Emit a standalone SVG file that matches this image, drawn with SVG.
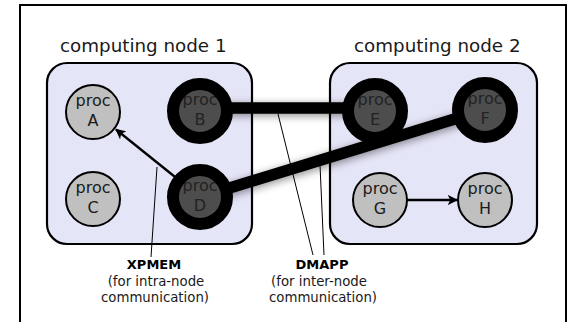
<svg xmlns="http://www.w3.org/2000/svg" width="574" height="322" viewBox="0 0 574 322">
<defs>
<style>
.frame{fill:#fff;stroke:#000;stroke-width:2}
.box{fill:#e5e5f8;stroke:#000;stroke-width:2.2}
.title{font-family:"DejaVu Sans",sans-serif;font-size:18.3px;fill:#1a1a1a}
.pl{fill:#c0c0c0;stroke:#000;stroke-width:2}
.pd{fill:#4d4d4d}
.ring{fill:none;stroke:#000;stroke-width:12}
.pt{font-family:"DejaVu Sans",sans-serif;font-size:16px;fill:#1a1a1a;text-anchor:middle}
.ptd{font-family:"DejaVu Sans",sans-serif;font-size:16px;fill:#222;text-anchor:middle}
.thick{stroke:#000;stroke-width:11.5;fill:none}
.arr{stroke:#000;stroke-width:2.3;fill:none}
.call{stroke:#000;stroke-width:1;fill:none}
.lb{font-family:"DejaVu Sans",sans-serif;font-size:13px;font-weight:bold;fill:#000;text-anchor:middle}
.ls{font-family:"DejaVu Sans",sans-serif;font-size:13.3px;fill:#1a1a1a;text-anchor:middle}
</style>
<filter id="glow" x="-20%" y="-50%" width="140%" height="200%">
<feGaussianBlur in="SourceAlpha" stdDeviation="4"/>
<feOffset dx="1" dy="2" result="b"/>
<feComponentTransfer><feFuncA type="linear" slope="0.45"/></feComponentTransfer>
<feMerge><feMergeNode/><feMergeNode in="SourceGraphic"/></feMerge>
</filter>
<marker id="ah" viewBox="0 0 10 10" refX="9" refY="5" markerWidth="4.5" markerHeight="4.5" orient="auto" markerUnits="strokeWidth">
<path d="M0,0 L10,5 L0,10 L2.5,5 Z" fill="#000"/>
</marker>
</defs>
<rect x="0" y="0" width="574" height="322" fill="#fff"/>
<rect class="frame" x="20" y="5" width="546" height="340"/>
<g id="node1">
<rect class="box" x="47" y="63" width="205" height="181" rx="20"/>
<text class="title" x="60" y="52">computing node 1</text>
</g>
<g id="node2">
<rect class="box" x="330" y="63" width="207" height="181" rx="20"/>
<text class="title" x="354" y="52">computing node 2</text>
</g>
<g id="connectors">
<g filter="url(#glow)">
<line class="thick" x1="200" y1="108" x2="375" y2="108"/>
<line class="thick" x1="200" y1="197" x2="484" y2="110"/>
</g>
<line class="arr" x1="190" y1="189" x2="116" y2="129.5" marker-end="url(#ah)"/>
<line class="arr" x1="407" y1="200" x2="457" y2="200" marker-end="url(#ah)"/>
<line class="call" x1="157" y1="167" x2="151" y2="257"/>
<line class="call" x1="278" y1="114" x2="313" y2="255"/>
<line class="call" x1="320" y1="165" x2="324" y2="255"/>
</g>
<g id="procA"><circle class="pl" cx="93" cy="112" r="27"/><text class="pt" x="93" y="106">proc</text><text class="pt" x="93" y="126">A</text></g>
<g id="procC"><circle class="pl" cx="93" cy="199" r="27"/><text class="pt" x="93" y="193">proc</text><text class="pt" x="93" y="213">C</text></g>
<g id="procG"><circle class="pl" cx="380" cy="200" r="27"/><text class="pt" x="380" y="194">proc</text><text class="pt" x="380" y="214">G</text></g>
<g id="procH"><circle class="pl" cx="485" cy="200" r="27"/><text class="pt" x="485" y="194">proc</text><text class="pt" x="485" y="214">H</text></g>
<g id="procB"><circle class="pd" cx="200" cy="111" r="27"/><text class="ptd" x="200" y="105">proc</text><text class="ptd" x="200" y="125">B</text><circle class="ring" cx="200" cy="111" r="27"/></g>
<g id="procD"><circle class="pd" cx="200" cy="197" r="27"/><text class="ptd" x="200" y="191">proc</text><text class="ptd" x="200" y="211">D</text><circle class="ring" cx="200" cy="197" r="27"/></g>
<g id="procE"><circle class="pd" cx="375" cy="111" r="27"/><text class="ptd" x="375" y="105">proc</text><text class="ptd" x="375" y="125">E</text><circle class="ring" cx="375" cy="111" r="27"/></g>
<g id="procF"><circle class="pd" cx="485" cy="110" r="27"/><text class="ptd" x="485" y="104">proc</text><text class="ptd" x="485" y="124">F</text><circle class="ring" cx="485" cy="110" r="27"/></g>
<g id="labelXPMEM">
<text class="lb" x="154" y="269">XPMEM</text>
<text class="ls" x="156" y="286">(for intra-node</text>
<text class="ls" x="155" y="302">communication)</text>
</g>
<g id="labelDMAPP">
<text class="lb" x="322" y="269">DMAPP</text>
<text class="ls" x="319" y="286">(for inter-node</text>
<text class="ls" x="323" y="302">communication)</text>
</g>
</svg>
